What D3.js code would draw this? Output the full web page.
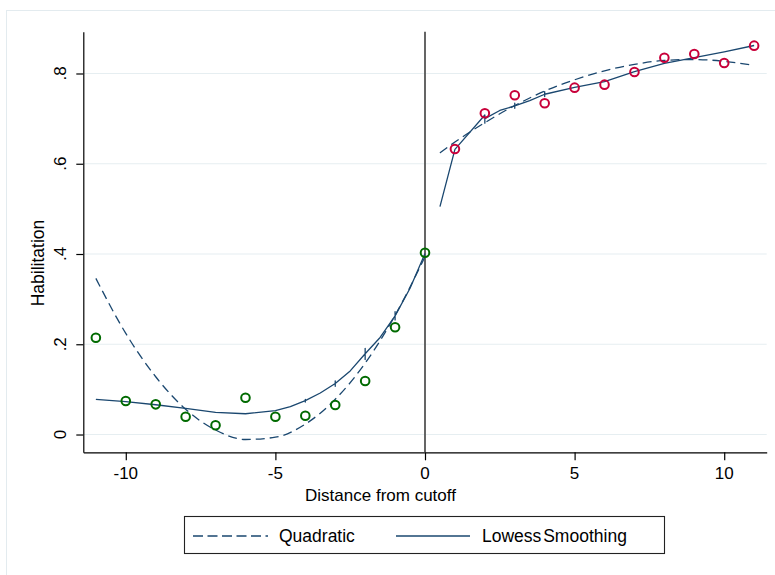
<!DOCTYPE html>
<html><head><meta charset="utf-8">
<script src="https://cdn.jsdelivr.net/npm/d3@7"></script>
<style>
body{margin:0;background:#fff;}
svg{display:block;font-family:"Liberation Sans",Arial,Helvetica,sans-serif;}
</style></head>
<body><svg id="c" width="775" height="575"></svg>
<script>
// ---- data ----
const binX_left  = [-11,-10,-9,-8,-7,-6,-5,-4,-3,-2,-1,0];
const binY_left  = [0.2145,0.0742,0.0669,0.0395,0.0204,0.0816,0.0395,0.0417,0.0654,0.1186,0.2376,0.4029];
const binX_right = [1,2,3,4,5,6,7,8,9,10,11];
const binY_right = [0.6327,0.7118,0.7517,0.734,0.7686,0.7753,0.8033,0.835,0.8432,0.8233,0.8617];

const quadX_left  = [-11,-10,-9,-8,-7,-6,-5,-4,-3,-2,-1,0];
const quadY_left  = [0.346,0.224,0.128,0.056,0.010,-0.011,-0.006,0.023,0.078,0.158,0.264,0.394];
const quadX_right = [0.5,1,2,3,4,5,6,7,8,9,10,11];
const quadY_right = [0.624,0.648,0.691,0.729,0.761,0.786,0.806,0.820,0.829,0.831,0.827,0.818];

// lowess values (repeated x = tied observations, drawn as short vertical marks)
const lowX_left = [-11,-10,-9,-8,-7,-6,-5,-4.5,-4,-4,-4,-4,-3.5,-3,-3,-3,-3,-2.5,-2,-2,-2,-2,-1.5,-1,-1,-1,-1,-0.5,0];
const lowY_left = [0.078,0.073,0.066,0.058,0.049,0.046,0.053,0.062,0.075,0.078,0.072,0.075,0.092,0.113,0.119,0.107,0.113,0.141,0.179,0.191,0.166,0.179,0.215,0.263,0.272,0.254,0.263,0.324,0.401];
const lowX_right = [0.5,1,2,2,2,2.5,3,3,3,3,3.5,4,4,4,4,5,6,7,8,9,10,11];
const lowY_right = [0.505,0.632,0.708,0.690,0.700,0.718,0.728,0.734,0.723,0.728,0.740,0.754,0.760,0.749,0.754,0.769,0.782,0.804,0.8225,0.835,0.848,0.862];

const xTicks = [-10,-5,0,5,10];
const xTickLabels = ["-10","-5","0","5","10"];
const yTicks = [0,0.2,0.4,0.6,0.8];
const yTickLabels = ["0",".2",".4",".6",".8"];
const legendLabels = ["Quadratic","Lowess Smoothing"];
const xTitle = "Distance from cutoff";
const yTitle = "Habilitation";

// ---- drawing ----
const svg = d3.select("#c");
const navy = "#1a476f", green = "#006a00", red = "#c8003a";
const x = d3.scaleLinear().domain([-11.42, 11.42]).range([83.3, 766.7]);
const y = d3.scaleLinear().domain([-0.0394, 0.8926]).range([452.3, 31.7]);

// graph region border
svg.append("rect").attr("x",6.5).attr("y",10.5).attr("width",800).attr("height",600)
  .attr("fill","none").attr("stroke","#e3ebef").attr("stroke-width",1);

// gridlines
svg.append("g").selectAll("line").data(yTicks).join("line")
  .attr("x1",x.range()[0]).attr("x2",x.range()[1])
  .attr("y1",d=>y(d)).attr("y2",d=>y(d))
  .attr("stroke","#e6eef1").attr("stroke-width",1.2);

// axes
const gx = svg.append("g").attr("transform",`translate(0,${y.range()[0]})`)
  .call(d3.axisBottom(x).tickValues(xTicks).tickSize(8).tickSizeOuter(0).tickFormat(""));
const gy = svg.append("g").attr("transform",`translate(${x.range()[0]},0)`)
  .call(d3.axisLeft(y).tickValues(yTicks).tickSize(7).tickSizeOuter(0).tickFormat(""));
[gx,gy].forEach(g=>{g.selectAll("path,line").attr("stroke","#000").attr("stroke-width",1.2);});

svg.append("g").selectAll("text").data(xTicks).join("text")
  .attr("x",d=>x(d)).attr("y",479).attr("text-anchor","middle")
  .attr("font-size",17).attr("fill","#000").text((d,i)=>xTickLabels[i]);
svg.append("g").selectAll("text").data(yTicks).join("text")
  .attr("transform",d=>`translate(65.5,${y(d)}) rotate(-90)`).attr("text-anchor","middle")
  .attr("font-size",17).attr("fill","#000").text((d,i)=>yTickLabels[i]);

svg.append("text").attr("x",380.5).attr("y",500.7).attr("text-anchor","middle")
  .attr("font-size",17).attr("fill","#000").text(xTitle);
svg.append("text").attr("transform","translate(44,263) rotate(-90)").attr("text-anchor","middle")
  .attr("font-size",17.5).attr("fill","#000").text(yTitle);

// cutoff line
svg.append("line").attr("x1",x(0)).attr("x2",x(0)).attr("y1",y.range()[1]).attr("y2",y.range()[0])
  .attr("stroke","#555").attr("stroke-width",1.8);

// fitted lines
const zip = (a,b)=>a.map((v,i)=>[v,b[i]]);
const smooth = d3.line().x(d=>x(d[0])).y(d=>y(d[1])).curve(d3.curveMonotoneX);
const lin = d3.line().x(d=>x(d[0])).y(d=>y(d[1]));
[[quadX_left,quadY_left],[quadX_right,quadY_right]].forEach(([a,b])=>{
  svg.append("path").attr("d",smooth(zip(a,b))).attr("fill","none")
    .attr("stroke",navy).attr("stroke-width",1.3).attr("stroke-dasharray","9,5");
});
[[lowX_left,lowY_left],[lowX_right,lowY_right]].forEach(([a,b])=>{
  svg.append("path").attr("d",lin(zip(a,b))).attr("fill","none")
    .attr("stroke",navy).attr("stroke-width",1.3).attr("stroke-linejoin","round");
});

// bin markers
svg.append("g").selectAll("circle").data(zip(binX_left,binY_left)).join("circle")
  .attr("cx",d=>x(d[0])).attr("cy",d=>y(d[1])).attr("r",4.3)
  .attr("fill","none").attr("stroke",green).attr("stroke-width",2);
svg.append("g").selectAll("circle").data(zip(binX_right,binY_right)).join("circle")
  .attr("cx",d=>x(d[0])).attr("cy",d=>y(d[1])).attr("r",4.3)
  .attr("fill","none").attr("stroke",red).attr("stroke-width",2);

// legend
const lg = svg.append("g");
lg.append("rect").attr("x",184.5).attr("y",516.5).attr("width",480).attr("height",37)
  .attr("fill","#fff").attr("stroke","#222").attr("stroke-width",1.1);
lg.append("line").attr("x1",193).attr("x2",268).attr("y1",536).attr("y2",536)
  .attr("stroke",navy).attr("stroke-width",1.3).attr("stroke-dasharray","10,4.5");
lg.append("text").attr("x",279).attr("y",542).attr("font-size",17.5).attr("fill","#000").text(legendLabels[0]);
lg.append("line").attr("x1",396).attr("x2",470).attr("y1",536).attr("y2",536)
  .attr("stroke",navy).attr("stroke-width",1.3);
lg.append("text").attr("x",482).attr("y",542).attr("font-size",17.5).attr("fill","#000")
  .attr("word-spacing","-3px").text(legendLabels[1]);
</script></body></html>
